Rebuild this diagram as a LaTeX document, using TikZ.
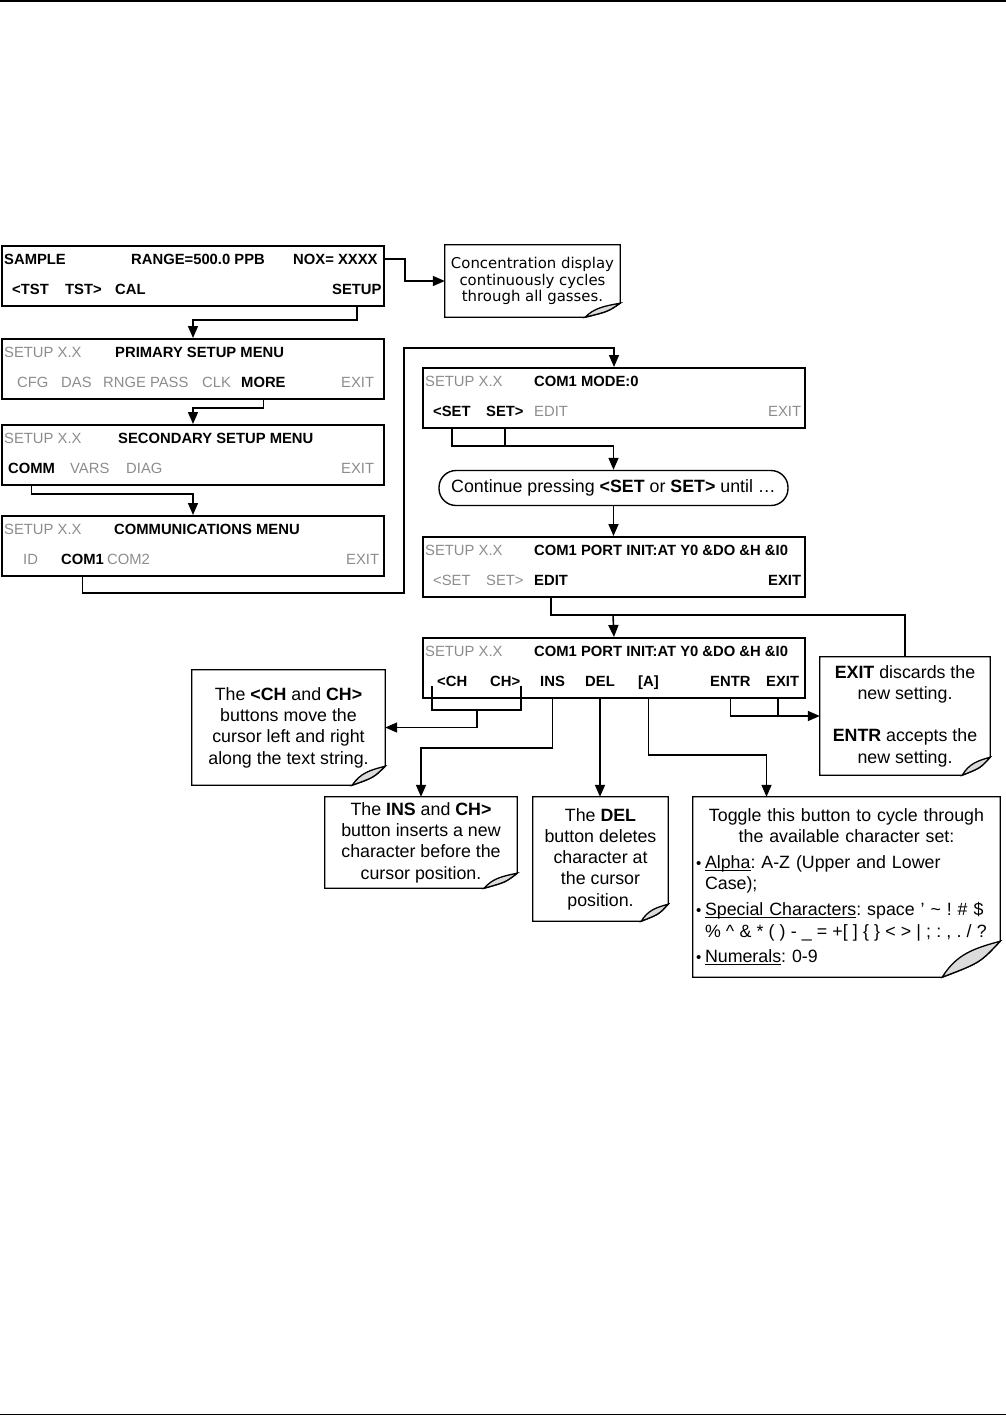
\documentclass[tikz,border=0pt]{standalone}
\usepackage{fontspec}
\setmainfont{Liberation Sans}
\newfontfamily\dejavu{DejaVu Sans}
\usetikzlibrary{arrows.meta}

\definecolor{dimtext}{gray}{0.55}
\definecolor{curlgray}{gray}{0.86}
\newcommand{\screenfont}{\fontsize{14.8}{17}\selectfont}
\newcommand{\notefont}{\fontsize{17.8}{21.3}\selectfont}
\newcommand{\concfont}{\dejavu\fontsize{14.9}{16.6}\selectfont}

% note outline with the curled corner: node, corner width, corner height
\newcommand{\curlnote}[3]{%
  \draw[notebox] (#1.north west) -- (#1.north east) -- ([yshift=#3]#1.south east)
    .. controls ([xshift=-0.35*#2, yshift=0.4*#3]#1.south east) .. ([xshift=-#2]#1.south east)
    -- (#1.south west) -- cycle;
  \filldraw[notebox, fill=curlgray] ([yshift=#3]#1.south east)
    .. controls ([xshift=-0.35*#2, yshift=0.4*#3]#1.south east) .. ([xshift=-#2]#1.south east)
    .. controls ([xshift=-0.75*#2, yshift=0.65*#3]#1.south east) and ([xshift=-0.45*#2, yshift=0.8*#3]#1.south east) .. ([yshift=#3]#1.south east) -- cycle;
}
\newcommand{\bulletitem}[1]{\par\vspace{4.5pt}\hangindent=9pt\hangafter=1\noindent
  \makebox[9pt][l]{\fontsize{15}{15}\selectfont\textbullet}#1\par}
\newcommand{\lineunder}[1]{\setbox0\hbox{#1}\rlap{\vrule width\wd0 height -1.3pt depth 2.5pt}\box0}

\begin{document}
\frenchspacing
\begin{tikzpicture}[x=1pt,y=-1pt]
  \tikzset{screen/.style = {draw, line width=2pt, minimum width=382, minimum height=60, anchor=north west, inner sep=0}}
  \tikzset{btn/.style = {anchor=base west, inner sep=0, font=\screenfont\bfseries}}
  \tikzset{dimbtn/.style = {anchor=base west, inner sep=0, font=\screenfont, text=dimtext}}
  \tikzset{note/.style = {inner sep=0, align=center, font=\notefont}}
  \tikzset{notebox/.style = {line width=1.3pt}}
  \tikzset{wire/.style = {draw, line width=1.6pt}}
  \tikzset{line/.style = {wire, ->, >={Triangle[length=12pt,width=10pt]}}}

  \useasboundingbox (0,0) rectangle (1006,1416);
  \draw[line width=1.5pt] (0,1) -- (1006,1);
  \draw[line width=1.5pt] (0,1414.5) -- (1006,1414.5);

  %%%%%%%%%%%% left column of screens

  \node[screen] (sample) at (1,245) {};
  \node[btn] (samplelbl) at (4,264) {SAMPLE};
  \node[btn] (rangelbl) at (131,264) {RANGE=500.0 PPB};
  \node[btn] (noxlbl) at (293,264) {NOX= XXXX};
  \node[btn] (ltstkey) at (12,294) {<TST};
  \node[btn] (rtstkey) at (65,294) {TST>};
  \node[btn] (calkey) at (115,294) {CAL};
  \node[btn] (setupkey) at (332,294) {SETUP};

  \node[screen] (primary) at (1,338) {};
  \node[dimbtn] (primhead) at (4,357) {SETUP X.X};
  \node[btn] (primtitle) at (115,357) {PRIMARY SETUP MENU};
  \node[dimbtn] (cfgkey) at (17,387) {CFG};
  \node[dimbtn] (daskey) at (61,387) {DAS};
  \node[dimbtn] (rngekey) at (103,387) {RNGE PASS};
  \node[dimbtn] (clkkey) at (202,387) {CLK};
  \node[btn] (morekey) at (241,387) {MORE};
  \node[dimbtn] (primexit) at (341,387) {EXIT};

  \node[screen] (secondary) at (1,424) {};
  \node[dimbtn] (sechead) at (4,443) {SETUP X.X};
  \node[btn] (sectitle) at (118,443) {SECONDARY SETUP MENU};
  \node[btn] (commkey) at (8,473) {COMM};
  \node[dimbtn] (varskey) at (70,473) {VARS};
  \node[dimbtn] (diagkey) at (126,473) {DIAG};
  \node[dimbtn] (secexit) at (341,473) {EXIT};

  \node[screen] (comms) at (1,515) {};
  \node[dimbtn] (commhead) at (4,534) {SETUP X.X};
  \node[btn] (commtitle) at (114,534) {COMMUNICATIONS MENU};
  \node[dimbtn] (idkey) at (23,564) {ID};
  \node[btn] (comonekey) at (61,564) {COM1};
  \node[dimbtn] (comtwokey) at (107,564) {COM2};
  \node[dimbtn] (commexit) at (346,564) {EXIT};

  %%%%%%%%%%%% right column of screens

  \node[screen] (mode) at (422,367) {};
  \node[dimbtn] (modehead) at (425,386) {SETUP X.X};
  \node[btn] (modetitle) at (534,386) {COM1 MODE:0};
  \node[btn] (lsetkey) at (433,416) {<SET};
  \node[btn] (rsetkey) at (486,416) {SET>};
  \node[dimbtn] (modeedit) at (534,416) {EDIT};
  \node[dimbtn] (modeexit) at (768,416) {EXIT};

  \node[draw, line width=1.4pt, rounded corners=17pt, minimum width=349, minimum height=35,
    inner sep=0, font=\notefont] (cont) at (613.5,488)
    {Continue pressing \textbf{<SET} or \textbf{SET>} until …};

  \node[screen] (init) at (422,536) {};
  \node[dimbtn] (inithead) at (425,555) {SETUP X.X};
  \node[btn] (inittitle) at (534,555) {COM1 PORT INIT:AT Y0 \&DO \&H \&I0};
  \node[dimbtn] (initlset) at (433,585) {<SET};
  \node[dimbtn] (initrset) at (486,585) {SET>};
  \node[btn] (editkey) at (534,585) {EDIT};
  \node[btn] (initexit) at (768,585) {EXIT};

  \node[screen] (charscr) at (422,637) {};
  \node[dimbtn] (charhead) at (425,656) {SETUP X.X};
  \node[btn] (chartitle) at (534,656) {COM1 PORT INIT:AT Y0 \&DO \&H \&I0};
  \node[btn] (lchkey) at (437,686) {<CH};
  \node[btn] (rchkey) at (490,686) {CH>};
  \node[btn] (inskey) at (540,686) {INS};
  \node[btn] (delkey) at (585,686) {DEL};
  \node[btn] (alphakey) at (638,686) {[A]};
  \node[btn] (entrkey) at (710,686) {ENTR};
  \node[btn] (exitkey) at (766,686) {EXIT};

  %%%%%%%%%%%% notes

  \node[note, font=\concfont, minimum width=175, minimum height=72] (concnote) at (532.5,281)
    {Concentration display\\continuously cycles\\through all gasses.};
  \curlnote{concnote}{35}{14}

  \node[note, minimum width=193, minimum height=115] (chnote) at (288.5,727.5)
    {The \textbf{<CH} and \textbf{CH>}\\buttons move the\\cursor left and right\\along the text string.};
  \curlnote{chnote}{33}{19}

  \node[note, minimum width=192, minimum height=91] (insnote) at (421,842.5)
    {The \textbf{INS} and \textbf{CH>}\\button inserts a new\\character before the\\cursor position.};
  \curlnote{insnote}{33}{15}

  \node[note, minimum width=135, minimum height=124] (delnote) at (600.5,859)
    {The \textbf{DEL}\\button deletes\\character at\\the cursor\\position.};
  \curlnote{delnote}{27}{17}

  \node[note, minimum width=170, minimum height=118] (exitnote) at (905,716)
    {\textbf{EXIT} discards the\\new setting.\\[21.3pt]\textbf{ENTR} accepts the\\new setting.};
  \curlnote{exitnote}{28}{18}

  \node[note, align=left, text width=301, minimum width=307, minimum height=180] (togglenote) at (846.5,887)
    {\parindent=0pt\frenchspacing{\centering Toggle this button to cycle through\\the available character set:\par}%
     \bulletitem{\lineunder{Alpha}: A-Z (Upper and Lower\newline Case);}%
     \bulletitem{\lineunder{Special Characters}: space ’ \textasciitilde\ ! \# \$\newline
       \mbox{\spaceskip=0.29em \% \textasciicircum\ \& * ( ) - \_ = +[ ] \{ \} < > | ; : , . / ?}}%
     \bulletitem{\lineunder{Numerals}: 0-9}};
  \curlnote{togglenote}{58}{36}

  %%%%%%%%%%%% connectors, left column

  \draw[line] (sample.east |- noxlbl) -- ++(20,0) |- (concnote);
  \draw[line] (setupkey |- sample.south) -- ++(0,13) -| (primary.north);
  \draw[line] (morekey |- primary.south) -- ++(0,8) -| (secondary.north);
  \draw[line] (commkey |- secondary.south) -- ++(0,8) -| (comms.north);

  \coordinate (lowturn) at (404,593);
  \coordinate (highturn) at (404,348);
  \draw[line] (comonekey |- comms.south) |- (lowturn) -- (highturn) -| (mode.north);

  %%%%%%%%%%%% connectors, right column

  \draw[wire] (rsetkey |- mode.south) -- ++(0,17);
  \draw[line] (lsetkey |- mode.south) -- ++(0,17) -| (cont.north);
  \draw[line] (cont.south) -- (cont.south |- init.north);

  \coordinate (editbend) at (613,615);
  \draw[wire] (editkey |- init.south) |- (editbend) -| (exitnote.north);
  \draw[line] (editbend) -- (charscr.north);

  \coordinate (chleft) at (432,710);
  \coordinate (chright) at (521,710);
  \coordinate (chmid) at (477,710);
  \draw[wire] (chleft |- lchkey.south) -- (chleft) -- (chright) -- (chright |- rchkey.south);
  \draw[line] (chmid) |- (chnote);

  \draw[line] (inskey |- charscr.south) -- ++(0,49) -| (insnote.north);
  \draw[line] (delkey |- charscr.south) -- (delkey |- delnote.north);

  \coordinate (alphain) at ([xshift=-80pt]togglenote.north);
  \draw[line] (alphakey |- charscr.south) -- ++(0,56) -| (alphain);

  \coordinate (exittick) at (778,697);
  \draw[line] (entrkey |- charscr.south) |- (exitnote);
  \draw[wire] (exittick) -- (exittick |- exitnote);

\end{tikzpicture}
\end{document}
